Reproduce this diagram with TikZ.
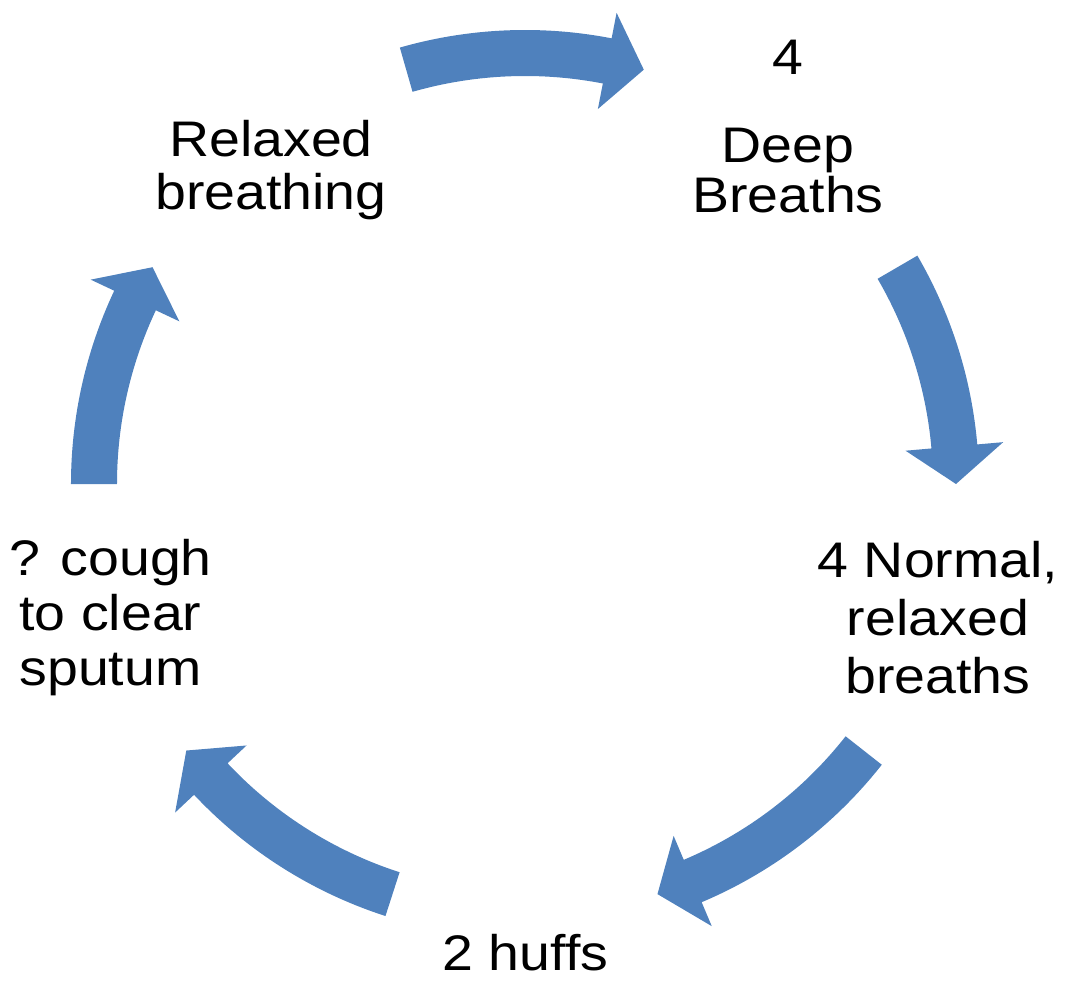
\documentclass[tikz,border=0pt]{standalone}
\usepackage{fontspec}
\setmainfont{Liberation Sans}[FakeStretch=1.11]
\definecolor{accent}{RGB}{79,129,189}
\newcommand\cyclearrow[2]{%
  \pgfmathsetmacro\hb{#2+5}%
  \fill[blockarrow] (#1:454) arc[start angle=#1, end angle=\hb, radius=454]
    -- (\hb:480) -- (#2:431) -- (\hb:382) -- (\hb:408)
    arc[start angle=\hb, end angle=#1, radius=408] -- cycle;}
\begin{document}
\begin{tikzpicture}[x=1pt,y=1pt,
  lbl/.style={align=center, inner sep=0pt, text=black, anchor=base},
  blockarrow/.style={fill=accent}]
\useasboundingbox (-525,-499) rectangle (543,484);
% block arrows of the cycle
\cyclearrow{106}{74}
\cyclearrow{30.2}{0}
\cyclearrow{-38.2}{-72.1}
\cyclearrow{252.1}{218.2}
\cyclearrow{180}{149.8}
% labels (anchor base = baseline of the last line)
\node[lbl, font=\fontsize{50}{53}\selectfont] (relaxed) at (-254,274) {Relaxed\\breathing};
\node[lbl, font=\fontsize{50}{50}\selectfont] (deep) at (263,271) {4\\[38pt]Deep\\Breaths};
\node[lbl, font=\fontsize{50}{58}\selectfont] (normal) at (413,-209) {4 Normal,\\relaxed\\breaths};
\node[lbl, font=\fontsize{50}{55}\selectfont] (cough) at (-414.5,-201) {? cough\\to clear\\sputum};
\node[lbl, font=\fontsize{50}{55}\selectfont] (huffs) at (0.5,-486) {2 huffs};
\end{tikzpicture}
\end{document}
